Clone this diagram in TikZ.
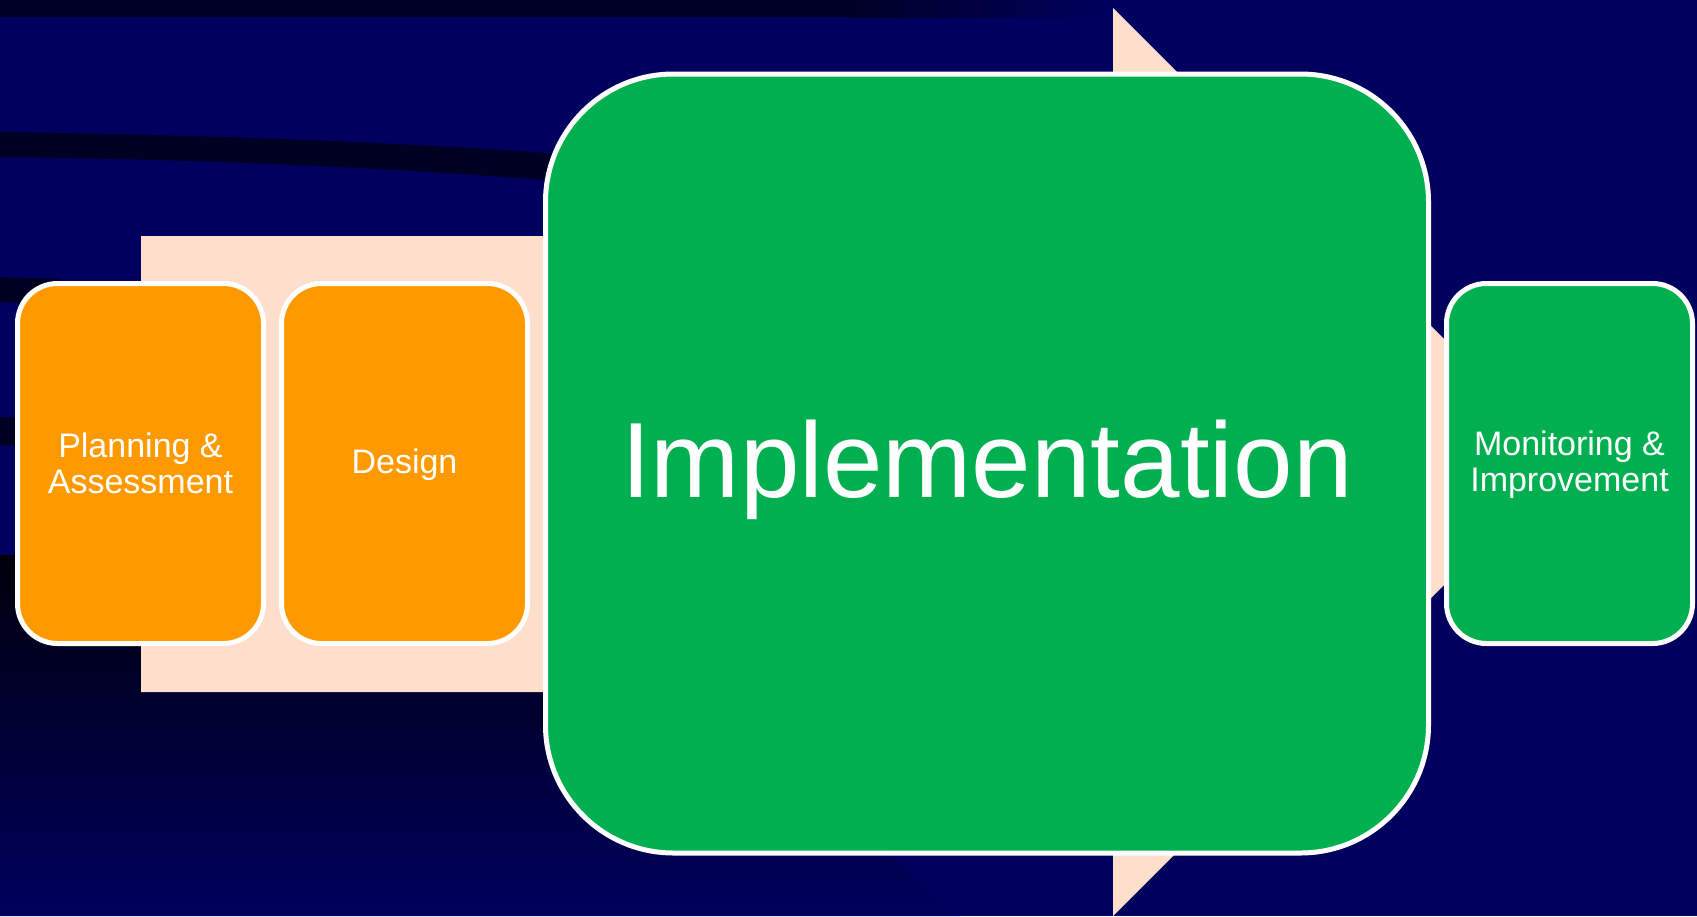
\documentclass[tikz,border=0pt]{standalone}
\usepackage{fontspec}
\setmainfont{Liberation Sans}
\usetikzlibrary{positioning}

\definecolor{bgnavy}{RGB}{0,0,94}
\definecolor{bgdark}{RGB}{0,0,38}
\definecolor{swoosh}{RGB}{0,0,34}
\definecolor{arrowpeach}{RGB}{255,222,204}
\definecolor{phaseorange}{RGB}{255,153,0}
\definecolor{phasegreen}{RGB}{0,176,80}

\newcommand{\smallstrut}{\rule[-5pt]{0pt}{33pt}}
\newcommand{\bigstrut}{\rule[-24pt]{0pt}{116pt}}

\begin{document}
\begin{tikzpicture}[x=1pt, y=-1pt, node distance=18pt,
    phase/.style={rectangle, draw=white, line width=5pt, rounded corners=40pt,
        minimum width=246pt, minimum height=360pt, inner sep=0pt, outer sep=0pt,
        align=center, text=white, font=\fontsize{34}{36}\selectfont},
    bigphase/.style={phase, rounded corners=128pt, minimum width=883pt,
        minimum height=779pt, font=\fontsize{107}{120}\selectfont}]
    \useasboundingbox (0,0) rectangle (1697,916);
    % background
    \fill[bgnavy] (0,0) rectangle (1697,916);
    \fill[bgdark] (0,0) rectangle (850,17);
    \shade[left color=bgdark, right color=bgnavy] (850,0) rectangle (1110,17);
    \fill[swoosh] (0,132) .. controls (250,136) and (420,143) .. (600,157)
        -- (600,184) .. controls (420,170) and (250,160) .. (0,157) -- cycle;
    \fill[swoosh] (0,277) -- (60,279) -- (60,305) -- (0,302) -- cycle;
    \fill[swoosh] (0,417) -- (40,418) -- (40,446) -- (0,445) -- cycle;
    \shade[top color=black!70!bgdark, bottom color=bgnavy]
        (0,555) -- (545,555) -- (960,916) -- (0,916) -- cycle;
    % big arrow behind the phases
    \fill[arrowpeach] (141,236) -- (1113,236) -- (1113,8) -- (1567,462)
        -- (1113,916) -- (1113,692) -- (141,692) -- cycle;
    % phases
    \node[phase, fill=phaseorange] (plan) at (140.5,463.5)
        {\smallstrut Planning \&\\\smallstrut Assessment};
    \node[phase, fill=phaseorange, right=of plan] (design) {\smallstrut Design};
    \node[bigphase, fill=phasegreen, right=of design] (impl) {\bigstrut Implementation};
    \node[phase, fill=phasegreen, right=of impl] (monitor)
        {\smallstrut Monitoring \&\\\smallstrut Improvement};
\end{tikzpicture}
\end{document}
